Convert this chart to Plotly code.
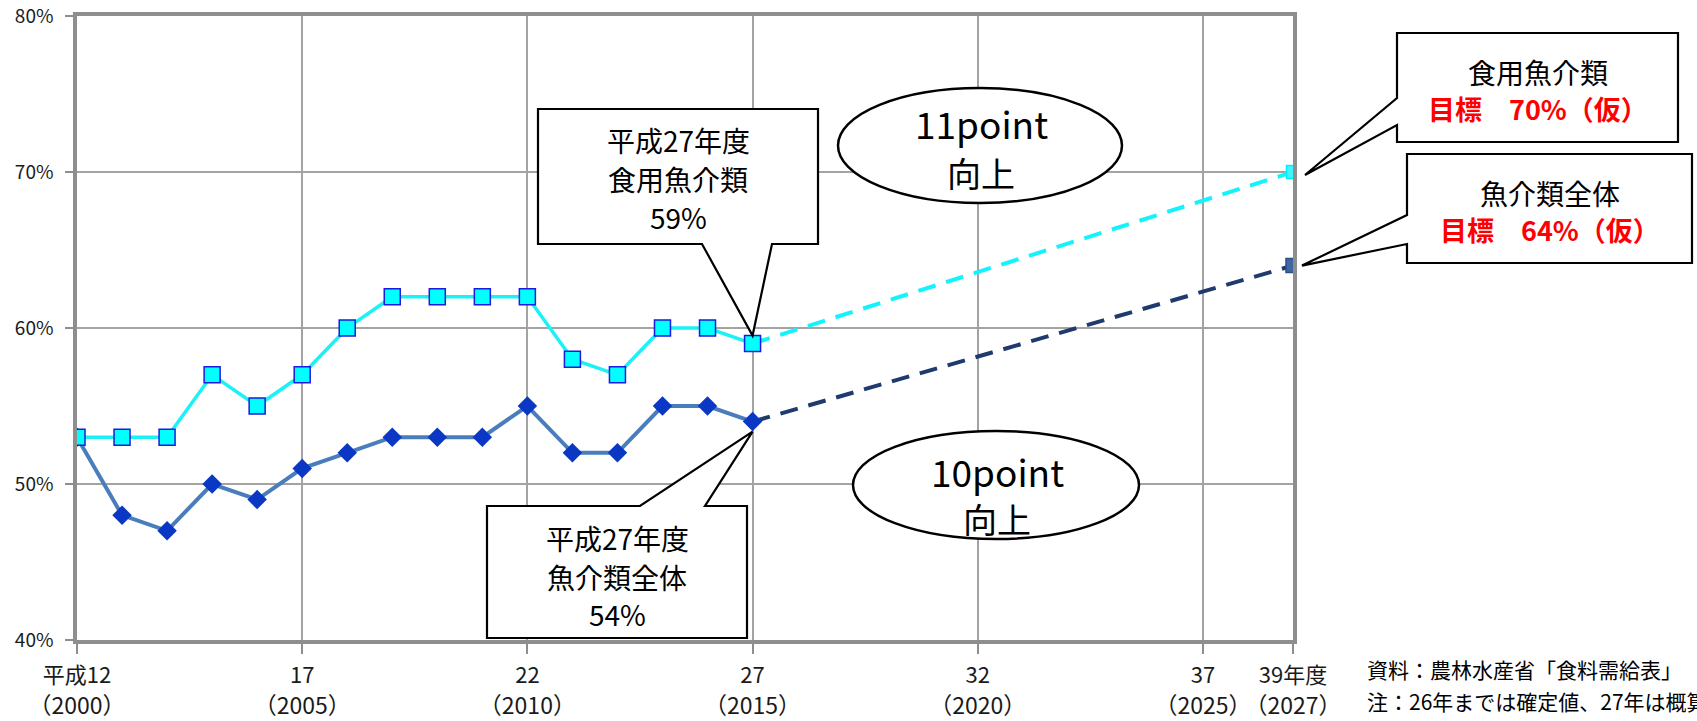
import plotly.graph_objects as go

# ---------------- data ----------------
years = list(range(2000, 2016))
food_fish = [53, 53, 53, 57, 55, 57, 60, 62, 62, 62, 62, 58, 57, 60, 60, 59]   # 食用魚介類
all_fish = [53, 48, 47, 50, 49, 51, 52, 53, 53, 53, 55, 52, 52, 55, 55, 54]    # 魚介類全体
target_years = [2015, 2027]
food_target = [59, 70]
all_target = [54, 64]

tick_vals = [2000, 2005, 2010, 2015, 2020, 2025, 2027]
tick_heisei = ["平成12", "17", "22", "27", "32", "37", "39年度"]
tick_western = ["（2000）", "（2005）", "（2010）", "（2015）", "（2020）", "（2025）", "（2027）"]
y_vals = [40, 50, 60, 70, 80]
y_text = ["40%", "50%", "60%", "70%", "80%"]

# ---------------- layout geometry ----------------
W, H = 1697, 721
L, R, T, B = 77, 1293, 16, 640
X0, X1 = 2000, 2027
Y0, Y1 = 40, 80
FONT = "Noto Sans CJK JP"


def px(xv):
    return L + (xv - X0) / (X1 - X0) * (R - L)


def py(yv):
    return B - (yv - Y0) / (Y1 - Y0) * (B - T)


def pap(x, y):
    return (x - L) / (R - L), (B - y) / (B - T)


def path(points):
    s = ""
    for i, (x, y) in enumerate(points):
        u, v = pap(x, y)
        s += ("M" if i == 0 else "L") + f"{u:.5f},{v:.5f} "
    return s + "Z"


fig = go.Figure()

# projections (dashed)
fig.add_trace(go.Scatter(x=target_years, y=all_target, mode="lines",
                         line=dict(color="#1F3A6E", width=4, dash="18px,11px"),
                         hoverinfo="skip", showlegend=False))
fig.add_trace(go.Scatter(x=target_years, y=food_target, mode="lines",
                         line=dict(color="#14F2FC", width=4, dash="18px,11px"),
                         hoverinfo="skip", showlegend=False))

# 魚介類全体
fig.add_trace(go.Scatter(x=years, y=all_fish, mode="lines+markers",
                         line=dict(color="#4A7DBB", width=4),
                         marker=dict(symbol="diamond", size=15, color="#0A38C4",
                                     line=dict(width=0)),
                         showlegend=False))
# 食用魚介類
fig.add_trace(go.Scatter(x=years, y=food_fish, mode="lines+markers",
                         line=dict(color="#1AF2F8", width=3.5),
                         marker=dict(symbol="square", size=16, color="#00FFFF",
                                     line=dict(color="#1A1AE0", width=1.5)),
                         showlegend=False))

# target end markers
fig.add_trace(go.Scatter(x=target_years[-1:], y=food_target[-1:], mode="markers",
                         marker=dict(symbol="square", size=13, color="#3FF6FF",
                                     line=dict(color="#00EEFF", width=1.5)),
                         showlegend=False))
fig.add_trace(go.Scatter(x=target_years[-1:], y=all_target[-1:], mode="markers",
                         marker=dict(symbol="square", size=14, color="#3F67A0",
                                     line=dict(color="#2D4F84", width=1.5)),
                         showlegend=False))

tick_text = [f"<span style='font-size:22px'>{a}</span><br><span style='font-size:23px'>{b}</span>"
             for a, b in zip(tick_heisei, tick_western)]

fig.update_layout(
    template="none",
    width=W, height=H,
    margin=dict(l=L, r=W - R, t=T, b=H - B, autoexpand=False),
    paper_bgcolor="white", plot_bgcolor="white",
    font=dict(family=FONT, color="#1A1A1A"),
    showlegend=False,
    xaxis=dict(range=[X0, X1], tickmode="array", tickvals=tick_vals, ticktext=tick_text,
               tickfont=dict(size=24, family=FONT, color="#1A1A1A"), tickangle=0,
               showgrid=True, gridcolor="#A3A3A3", gridwidth=1.5,
               showline=True, linecolor="#8E8E8E", linewidth=3.5, mirror=True,
               ticks="outside", ticklen=10, tickwidth=2, tickcolor="#8E8E8E",
               zeroline=False, fixedrange=True, automargin=False),
    yaxis=dict(range=[Y0, Y1], tickmode="array", tickvals=y_vals, ticktext=y_text,
               tickfont=dict(size=19, family=FONT, color="#1A1A1A"), tickangle=0,
               showgrid=True, gridcolor="#A3A3A3", gridwidth=1.5,
               showline=True, linecolor="#8E8E8E", linewidth=3.5, mirror=True,
               ticks="outside", ticklen=8, tickwidth=2, tickcolor="#8E8E8E",
               ticklabelstandoff=8,
               zeroline=False, fixedrange=True, automargin=False),
)

shapes = []
# callout: 平成27年度 食用魚介類
tx, ty = px(years[-1]), py(food_fish[-1]) - 8
shapes.append(dict(type="path", path=path([(538, 109), (818, 109), (818, 244), (772, 244),
                                           (tx, ty), (702, 244), (538, 244)])))
# callout: 平成27年度 魚介類全体
tx, ty = px(years[-1]), py(all_fish[-1]) + 10
shapes.append(dict(type="path", path=path([(487, 506), (640, 506), (tx, ty), (705, 506),
                                           (747, 506), (747, 638), (487, 638)])))
# callout: target 食用魚介類
tx, ty = px(target_years[-1]) + 12, py(food_target[-1]) + 3
shapes.append(dict(type="path", path=path([(1397, 33), (1678, 33), (1678, 142), (1397, 142),
                                           (1397, 125), (tx, ty), (1397, 98)])))
# callout: target 魚介類全体
tx, ty = px(target_years[-1]) + 9, py(all_target[-1])
shapes.append(dict(type="path", path=path([(1407, 154), (1692, 154), (1692, 263), (1407, 263),
                                           (1407, 244), (tx, ty), (1407, 215)])))
for s in shapes:
    s.update(xref="paper", yref="paper", fillcolor="white",
             line=dict(color="black", width=2.2), layer="above")

# ellipses
for (x0, y0, x1, y1) in [(838, 88, 1122, 203), (853, 431, 1139, 539)]:
    u0, v1 = pap(x0, y0)
    u1, v0 = pap(x1, y1)
    shapes.append(dict(type="circle", xref="paper", yref="paper", x0=u0, x1=u1, y0=v0, y1=v1,
                       fillcolor="white", line=dict(color="black", width=2.5), layer="above"))
fig.update_layout(shapes=shapes)


def ann(x, y, text, size, color="black", xanchor="center", bold=False):
    u, v = pap(x, y)
    if bold:
        text = f"<b>{text}</b>"
    fig.add_annotation(xref="paper", yref="paper", x=u, y=v, text=text, showarrow=False,
                       xanchor=xanchor, yanchor="middle", align="center", borderpad=0,
                       font=dict(size=size, color=color, family=FONT))


# callout texts (one line each)
ann(678, 140, "平成27年度", 28)
ann(678, 179, "食用魚介類", 28)
ann(678, 217, f"{food_fish[-1]}%", 28)
ann(617, 538, "平成27年度", 28)
ann(617, 577, "魚介類全体", 28)
ann(617, 614, f"{all_fish[-1]}%", 28)
ann(981, 123, f"{food_target[-1] - food_fish[-1]}point", 37)
ann(981, 172, "向上", 34)
ann(997, 471, f"{all_target[-1] - all_fish[-1]}point", 37)
ann(997, 518, "向上", 34)
ann(1538, 72, "食用魚介類", 28)
ann(1538, 108, f"目標　{food_target[-1]}%（仮）", 27, color="#FF0000", bold=True)
ann(1550, 193, "魚介類全体", 28)
ann(1550, 229, f"目標　{all_target[-1]}%（仮）", 27, color="#FF0000", bold=True)
ann(1366, 669, "資料：農林水産省「食料需給表」", 21, xanchor="left")
ann(1366, 701, "注：26年までは確定値、27年は概算値", 21, xanchor="left")

fig.write_html("out.html", config={"displayModeBar": False},
               post_script="document.body.style.margin='0';document.body.style.overflow='hidden';")
